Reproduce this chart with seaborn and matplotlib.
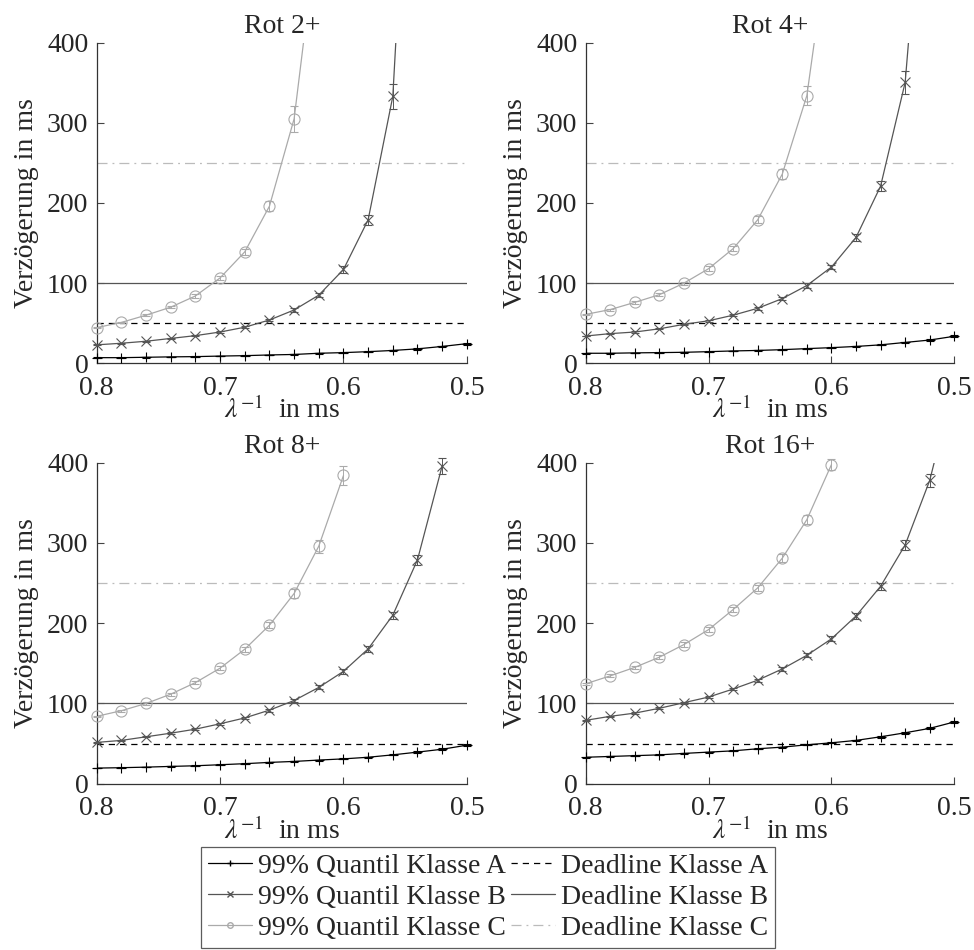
import numpy as np
import pandas as pd
import seaborn as sns
import matplotlib.pyplot as plt
from matplotlib.lines import Line2D

# x grid (lambda^-1 in ms)
lam = [0.80, 0.78, 0.76, 0.74, 0.72, 0.70, 0.68, 0.66, 0.64, 0.62, 0.60, 0.58, 0.56, 0.54, 0.52, 0.50]

titles = ['Rot 2+', 'Rot 4+', 'Rot 8+', 'Rot 16+']

# Rot 2+
r2_a = [7, 7, 7.5, 8, 8.3, 9, 9.5, 10.4, 11, 12.5, 13.3, 14.5, 16, 18, 21, 24.5]
r2_a_err = [0.3, 0.3, 0.3, 0.3, 0.4, 0.4, 0.4, 0.5, 0.5, 0.6, 0.6, 0.7, 0.8, 0.9, 1.0, 1.2]
r2_b = [23, 25, 27.5, 31, 34.5, 39, 45, 54, 66.5, 85, 117, 179, 333, 890]
r2_b_err = [0.5, 0.5, 0.6, 0.7, 0.8, 1, 1.2, 1.5, 2, 2.5, 4, 6, 16, 30]
r2_c = [44.5, 51, 60, 70, 84, 106.5, 139, 196, 305, 555]
r2_c_err = [1, 1, 1.2, 1.5, 2, 2.5, 3.5, 6, 16, 30]

# Rot 4+
r4_a = [12.5, 12.5, 13, 13.3, 13.7, 14.5, 15.4, 16, 17, 18.3, 19.5, 21, 23, 26, 29, 33.7]
r4_a_err = [0.3, 0.3, 0.3, 0.3, 0.4, 0.4, 0.4, 0.5, 0.5, 0.6, 0.6, 0.7, 0.8, 0.9, 1.0, 1.2]
r4_b = [34, 37, 39, 43, 48.6, 53, 60, 68.6, 80.7, 97, 120, 157, 221, 350.5, 720]
r4_b_err = [0.5, 0.6, 0.7, 0.8, 1, 1.2, 1.4, 1.7, 2, 3, 3, 4, 6, 14, 30]
r4_c = [61, 67, 76, 85.6, 100, 118, 143, 179, 236, 334, 554]
r4_c_err = [1, 1.2, 1.5, 1.8, 2, 3, 3.5, 4.5, 6, 12, 30]

# Rot 8+
r8_a = [19.5, 20, 20.7, 21.6, 22.4, 23.7, 25, 26.6, 27.8, 29.5, 31, 33, 36, 39.4, 43, 48]
r8_a_err = [0.3, 0.3, 0.3, 0.3, 0.4, 0.4, 0.4, 0.5, 0.5, 0.6, 0.6, 0.7, 0.8, 0.9, 1.0, 1.2]
r8_b = [51.5, 54, 58.5, 63, 68, 74.7, 82, 91.7, 103.7, 120, 140, 168, 210, 279, 396]
r8_b_err = [0.6, 0.7, 0.8, 0.9, 1, 1.2, 1.4, 1.7, 2, 2.5, 3, 3.5, 4.5, 6, 10]
r8_c = [84, 91, 100, 111.6, 126, 144, 167.6, 197.5, 237, 296, 384]
r8_c_err = [1, 1.2, 1.4, 1.7, 2, 2.5, 3, 4, 5, 8, 12]

# Rot 16+
r16_a = [33, 34, 35, 36, 37.8, 39.4, 41, 43.6, 45.6, 48.5, 51, 54, 58.5, 63.5, 69, 77]
r16_a_err = [0.4, 0.4, 0.4, 0.5, 0.5, 0.5, 0.6, 0.6, 0.7, 0.7, 0.8, 0.9, 1.0, 1.1, 1.3, 1.5]
r16_b = [79, 84, 88, 94, 101, 108, 118, 129, 143, 160, 180.5, 209, 246, 297.5, 378, 500]
r16_b_err = [0.8, 0.9, 1, 1.1, 1.2, 1.4, 1.6, 1.9, 2.2, 2.6, 3, 3.6, 4.5, 6, 8, 12]
r16_c = [124.5, 134.4, 145, 157.7, 173.4, 192, 217, 244, 281, 329, 397.5]
r16_c_err = [1.5, 1.7, 2, 2.3, 2.6, 3, 3.5, 4, 5, 6, 7]

panels = [
    [(r2_a, r2_a_err), (r2_b, r2_b_err), (r2_c, r2_c_err)],
    [(r4_a, r4_a_err), (r4_b, r4_b_err), (r4_c, r4_c_err)],
    [(r8_a, r8_a_err), (r8_b, r8_b_err), (r8_c, r8_c_err)],
    [(r16_a, r16_a_err), (r16_b, r16_b_err), (r16_c, r16_c_err)],
]

klassen = ['A', 'B', 'C']
colors = {'A': '#000000', 'B': '#555555', 'C': '#aaaaaa'}
markers = {'A': '+', 'B': 'x', 'C': 'o'}

deadlines = [50, 100, 250]
dl_styles = [('#000000', (0, (5, 4))), ('#555555', '-'), ('#bbbbbb', (0, (8, 4, 1.5, 4)))]

FS = 20

sns.set_theme(style='ticks')
plt.rcParams['font.family'] = ['Liberation Serif', 'DejaVu Serif']
plt.rcParams['mathtext.fontset'] = 'stix'
plt.rcParams['font.size'] = FS

fig = plt.figure(figsize=(9.74, 9.5), dpi=100)
positions = [
    [0.0993, 0.6176, 0.380, 0.3375],
    [0.6013, 0.6176, 0.3785, 0.3375],
    [0.0993, 0.175, 0.380, 0.338],
    [0.6013, 0.175, 0.3785, 0.338],
]

ymax = 400
for pos, title, series in zip(positions, titles, panels):
    ax = fig.add_axes(pos)

    rows = []
    for k, (vals, errs) in zip(klassen, series):
        for x, y in zip(lam, vals):
            rows.append({'x': x, 'y': y, 'klasse': k})
    df = pd.DataFrame(rows)

    for yv, (c, ls) in zip(deadlines, dl_styles):
        ax.axhline(yv, color=c, linestyle=ls, linewidth=0.9, zorder=1)

    sns.lineplot(data=df, x='x', y='y', hue='klasse', palette=colors,
                 estimator=None, sort=False, legend=False, linewidth=0.9, ax=ax, zorder=2)

    for k, (vals, errs) in zip(klassen, series):
        xv = np.array(lam[:len(vals)])
        yv = np.array(vals)
        ev = np.array(errs)
        keep = yv <= ymax
        ax.errorbar(xv[keep], yv[keep], yerr=ev[keep], fmt=markers[k], color=colors[k],
                    mfc='none', markersize=7 if k != 'C' else 8, markeredgewidth=0.8,
                    elinewidth=0.7, capsize=3, capthick=0.7, clip_on=False, zorder=3)

    ax.set_xlim(0.8, 0.5)
    ax.set_ylim(0, ymax)
    ax.set_xticks([0.8, 0.7, 0.6, 0.5])
    ax.set_xticklabels(['0.8', '0.7', '0.6', '0.5'])
    ax.set_yticks([0, 100, 200, 300, 400])
    ax.tick_params(direction='in', length=5, width=0.8, color='#444444', labelsize=FS, pad=6)
    ax.tick_params(axis='x', pad=9)
    for s in ['top', 'right']:
        ax.spines[s].set_visible(False)
    for s in ['left', 'bottom']:
        ax.spines[s].set_color('#333333')
        ax.spines[s].set_linewidth(0.9)
    ax.set_title(title, fontsize=FS, pad=7)
    ax.set_xlabel(r'$\lambda^{-1}$  in ms', fontsize=FS, labelpad=-3)
    ax.set_ylabel('Verzögerung in ms', fontsize=FS, labelpad=6)

handles = []
labels = []
for k in klassen:
    handles.append(Line2D([], [], color=colors[k], marker=markers[k], mfc='none',
                          markersize=4, linewidth=0.9))
    labels.append('99% Quantil Klasse ' + k)
for k, (c, ls) in zip(klassen, dl_styles):
    handles.append(Line2D([], [], color=c, linestyle=ls, linewidth=0.9))
    labels.append('Deadline Klasse ' + k)

leg = fig.legend(handles, labels, loc='upper left', bbox_to_anchor=(0.206, 0.1087),
                 ncol=2, fontsize=FS, frameon=True, fancybox=False, borderaxespad=0,
                 handlelength=1.6, handletextpad=0.2, columnspacing=0.2,
                 labelspacing=0.2, borderpad=0.25)
leg.get_frame().set_edgecolor('#333333')
leg.get_frame().set_linewidth(0.9)

fig.savefig('out.png', dpi=100)
